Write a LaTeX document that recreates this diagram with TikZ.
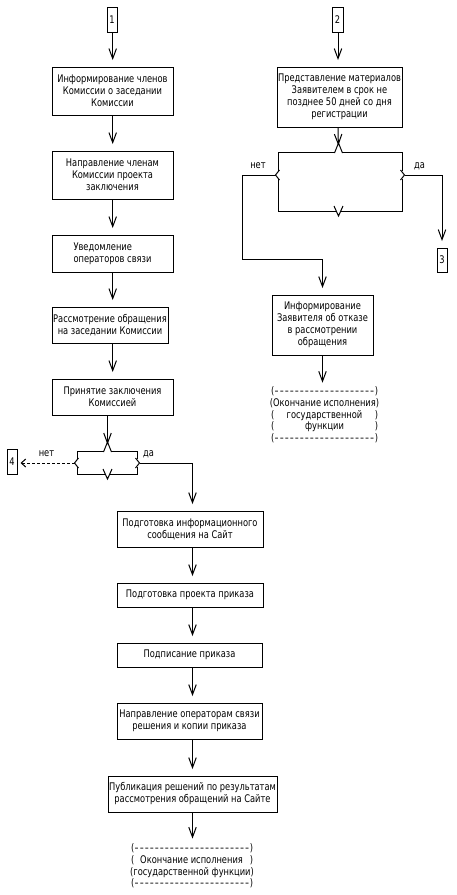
\documentclass[tikz,border=0pt]{standalone}
\usepackage{fontspec}
\usepackage{graphicx}
\setmainfont{DejaVu Sans}[FakeStretch=0.79]
\usetikzlibrary{arrows.meta,calc}
\newcommand\DashGlyph{\hbox to 5pt{\hss\scalebox{1.35}[1]{-}\hss}}
\newcommand\TermDash[1]{\makebox[#1]{(\xleaders\DashGlyph\hfill)}}
\newcommand\TermRow[2]{\makebox[#1]{(\hfill #2\hfill)}}
\newcommand\DecFrame[7]{%
  % #1 xl, #2 xr, #3 yt, #4 yb, #5 cx, #6 yn, #7 name
  \draw[frame] (#1,{#6-4}) -- (#1,#3) -- ({#5-3.2},#3);
  \draw[frame] ({#5-4},{#3+1}) -- (#5,{#3-9}) -- ({#5+4},{#3+1});
  \draw[frame] ({#5+3.2},#3) -- (#2,#3) -- (#2,{#6-4});
  \draw[frame] ({#2-1.5},{#6-5}) -- ({#2+2.5},#6) -- ({#2-1.5},{#6+5});
  \draw[frame] (#2,{#6+4}) -- (#2,#4) -- ({#5+2.2},#4);
  \draw[frame] ({#5-4.5},{#4-5}) -- (#5,{#4+5}) -- ({#5+4.5},{#4-5});
  \draw[frame] ({#5-2.2},#4) -- (#1,#4) -- (#1,{#6+4});
  \draw[frame] ({#1+1.5},{#6-5}) -- ({#1-2.5},#6) -- ({#1+1.5},{#6+5});
  \coordinate (#7t) at (#5,#3);
  \coordinate (#7l) at ({#1-2.5},#6);
  \coordinate (#7r) at ({#2+2.5},#6);
}
\begin{document}
\begin{tikzpicture}[x=1pt,y=-1pt,
  every node/.style={font=\fontsize{10.5}{12}\selectfont, inner sep=0pt},
  box/.style={draw, line width=1pt, align=center},
  numbox/.style={draw, line width=1pt, minimum width=10pt, minimum height=25pt},
  term/.style={align=center, font=\fontsize{10.5}{11.7}\selectfont},
  frame/.style={line width=1pt},
  conn/.style={line width=1pt, -{Straight Barb[length=10pt,width=7.5pt,line width=1pt].}, shorten >=6.5pt},
  dconn/.style={line width=1pt, dash pattern=on 3pt off 2pt, -{Straight Barb[length=4.5pt,width=8pt,line width=1pt].}, shorten >=3pt},
  lbl/.style={anchor=base}
]
\useasboundingbox (0,0) rectangle (457,895);
\fill[white] (0,0) rectangle (457,895);

% columns
\coordinate (colA) at (112.7,0);
\coordinate (colD) at (107.5,0);
\coordinate (colB) at (192.5,0);
\coordinate (colR) at (338,0);

% left column
\node[numbox, minimum width=10pt] (n1) at (112,19.5) {1};
\node[box, minimum width=121pt, minimum height=48pt] (b1) at (112.5,91) {Информирование членов\\Комиссии о заседании\\Комиссии};
\node[box, minimum width=121pt, minimum height=48pt] (b2) at (112.5,175) {Направление членам\\Комиссии проекта\\заключения};
\node[box, minimum width=121pt, minimum height=37pt, align=left] (b3) at (112.5,253.5) {Уведомление\\операторов связи};
\node[box, minimum width=116pt, minimum height=36pt] (b4) at (110,325) {Рассмотрение обращения\\на заседании Комиссии};
\node[box, minimum width=121pt, minimum height=36pt] (b5) at (112.5,397) {Принятие заключения\\Комиссией};

\DecFrame{77}{137}{451}{474}{107.5}{463}{dL}

\node[numbox] (n4) at (12,461.5) {4};
\node[lbl] (netL) at (46.5,456) {нет};
\node[lbl] (daL) at (148.5,456) {да};

\node[box, minimum width=146pt, minimum height=36pt] (b6) at (190,529) {Подготовка информационного\\сообщения на Сайт};
\node[box, minimum width=146pt, minimum height=24pt] (b7) at (190,595) {Подготовка проекта приказа};
\node[box, minimum width=145pt, minimum height=24pt] (b8) at (189.5,655) {Подписание приказа};
\node[box, minimum width=145pt, minimum height=36pt] (b9) at (189.5,721) {Направление операторам связи\\решения и копии приказа};
\node[box, minimum width=169pt, minimum height=36pt] (b10) at (192.5,794) {Публикация решений по результатам\\рассмотрения обращений на Сайте};
\node[term] (e2) at (192,866) {\TermDash{122pt}\\\makebox[122pt]{(\hspace{6pt}Окончание исполнения\hfill)}\\\TermRow{122pt}{государственной функции}\\\TermDash{122pt}};

% right column
\node[numbox, minimum width=11pt] (n2) at (337.5,19.5) {2};
\node[box, minimum width=125pt, minimum height=60pt] (r1) at (339.5,97) {Представление материалов\\Заявителем в срок не\\позднее 50 дней со дня\\регистрации};

\DecFrame{278}{402}{152}{211}{338.5}{175}{dR}

\node[lbl] (netR) at (258,168) {нет};
\node[lbl] (daR) at (419.5,168) {да};
\node[numbox, minimum height=24pt] (n3) at (442,260) {3};
\coordinate (k1) at (242,259);
\node[box, minimum width=101pt, minimum height=60pt] (r2) at (322.5,325) {Информирование\\Заявителя об отказе\\в рассмотрении\\обращения};
\node[term] (e1) at (324.5,415) {\TermDash{107pt}\\\TermRow{107pt}{Окончание исполнения}\\\TermRow{107pt}{государственной}\\\TermRow{107pt}{функции}\\\TermDash{107pt}};

% connectors left
\draw[conn] (n1.south -| colA) -- (b1.north -| colA);
\draw[conn] (b1.south -| colA) -- (b2.north -| colA);
\draw[conn] (b2.south -| colA) -- (b3.north -| colA);
\draw[conn] (b3.south -| colA) -- (b4.north -| colA);
\draw[conn] (b4.south -| colA) -- (b5.north -| colA);
\draw[conn] (b5.south -| colD) -- (dLt);
\draw[dconn] (dLl) -- (n4.east |- dLl);
\draw[conn] (dLr) -| (b6.north -| colB);
\draw[conn] (b6.south -| colB) -- (b7.north -| colB);
\draw[conn] (b7.south -| colB) -- (b8.north -| colB);
\draw[conn] (b8.south -| colB) -- (b9.north -| colB);
\draw[conn] (b9.south -| colB) -- (b10.north -| colB);
\draw[conn, shorten >=5pt] (b10.south -| colB) -- (e2.north -| colB);

% connectors right
\draw[conn] (n2.south -| colR) -- (r1.north -| colR);
\draw[conn] (r1.south -| colR) -- (dRt);
\draw[conn] (dRr) -| (n3.north);
\draw[conn] (dRl) -| (k1) -| (r2.north);
\draw[conn, shorten >=4pt] (r2.south) -- (e1.north -| r2.south);
\end{tikzpicture}
\end{document}
